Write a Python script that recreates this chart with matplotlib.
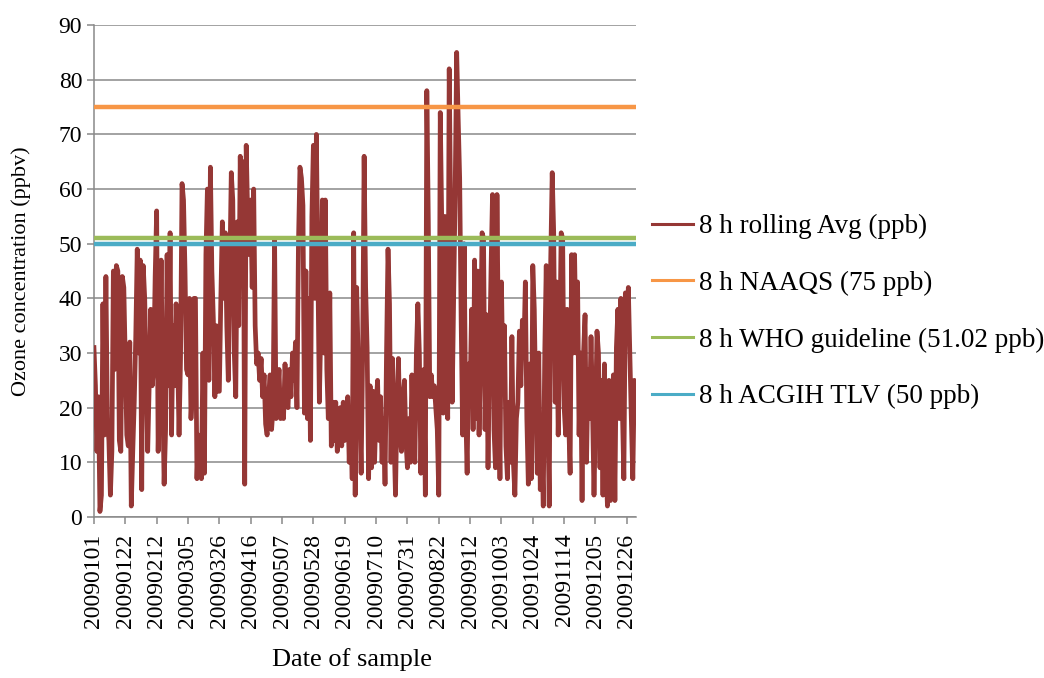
""" Ozone 8 h rolling average, 2009, against the guideline levels """

import numpy as np
import matplotlib
matplotlib.use("Agg")
import matplotlib.pyplot as plt

# daily 8 h rolling average (ppb), blocks of 21 days
ROLLING_AVG = [
    31, 24, 12, 22, 1, 4, 39, 15, 44, 18, 14, 4, 12, 45, 27, 46, 45, 14, 12, 44, 42,
    28, 15, 13, 32, 2, 12, 21, 33, 49, 30, 47, 5, 46, 40, 26, 12, 24, 38, 24, 27, 44,
    56, 12, 27, 47, 24, 6, 16, 48, 24, 52, 15, 35, 24, 39, 30, 15, 29, 61, 58, 45, 27,
    26, 40, 18, 24, 40, 40, 7, 15, 10, 7, 30, 8, 48, 60, 25, 64, 45, 36, 22, 35, 23,
    23, 40, 54, 40, 52, 35, 25, 45, 63, 58, 30, 22, 54, 35, 66, 45, 65, 6, 68, 55, 48,
    58, 42, 60, 35, 28, 30, 25, 29, 22, 26, 17, 15, 22, 26, 16, 20, 51, 18, 22, 27, 18,
    20, 18, 28, 21, 20, 27, 22, 30, 25, 32, 20, 50, 64, 62, 57, 19, 45, 18, 40, 14, 55,
    68, 40, 70, 45, 21, 35, 58, 30, 58, 27, 18, 41, 13, 21, 14, 21, 12, 16, 20, 13, 21,
    14, 18, 22, 10, 20, 7, 52, 4, 42, 29, 20, 8, 30, 66, 42, 31, 7, 24, 9, 23, 10,
    20, 25, 14, 22, 10, 18, 6, 30, 49, 39, 10, 29, 15, 4, 20, 29, 15, 12, 22, 25, 14,
    9, 18, 10, 26, 15, 10, 30, 39, 30, 8, 24, 27, 4, 78, 54, 22, 26, 22, 24, 20, 16,
    4, 74, 54, 19, 55, 31, 18, 82, 55, 21, 40, 60, 85, 73, 62, 36, 15, 50, 20, 8, 28,
    23, 38, 16, 47, 18, 45, 15, 30, 52, 51, 16, 37, 9, 28, 45, 59, 16, 9, 59, 30, 7,
    43, 24, 35, 13, 7, 21, 10, 33, 10, 4, 18, 21, 34, 24, 36, 30, 43, 18, 6, 28, 7,
    46, 38, 20, 8, 30, 5, 14, 2, 30, 46, 20, 2, 47, 63, 52, 21, 43, 15, 30, 52, 51,
    20, 15, 38, 18, 8, 48, 30, 48, 30, 43, 15, 30, 3, 30, 37, 10, 27, 18, 33, 20, 4,
    18, 34, 30, 9, 25, 4, 28, 10, 2, 25, 3, 19, 26, 3, 31, 38, 18, 40, 20, 7, 41,
    36, 42, 30, 18, 7, 25, 24,
]
DATE_LABELS = [
    "20090101", "20090122", "20090212", "20090305", "20090326", "20090416",
    "20090507", "20090528", "20090619", "20090710", "20090731", "20090822",
    "20090912", "20091003", "20091024", "20091114", "20091205", "20091226",
]
LABEL_STEP = 21
NAAQS = 75
WHO   = 51.02
ACGIH = 50

GRID_COLOR = "#898989"
SERIF      = ["Liberation Serif", "DejaVu Serif"]


def plot_ozone():
    """ Draw the series, the three limits and the legend """

    plt.rcParams["font.family"] = SERIF

    days = np.arange(len(ROLLING_AVG))

    fig = plt.figure(figsize=(10.44, 6.78), dpi=100)
    ax  = fig.add_axes([0.090, 0.2375, 0.519, 0.7255])

    ax.plot(days, ROLLING_AVG, color="#953735", lw=3.4,
            label="8 h rolling Avg (ppb)", zorder=3)
    ax.axhline(NAAQS, color="#F79646", lw=3.2, label="8 h NAAQS (75 ppb)", zorder=4)
    ax.axhline(WHO, color="#9BBB59", lw=3.2,
               label="8 h WHO guideline (51.02 ppb)", zorder=4)
    ax.axhline(ACGIH, color="#4BACC6", lw=3.2,
               label="8 h ACGIH TLV (50 ppb)", zorder=4)

    ax.set_xlim(0, len(ROLLING_AVG) - 1)
    ax.set_ylim(0, 90)
    ax.set_yticks(range(0, 91, 10))
    ax.set_xticks(days[::LABEL_STEP], DATE_LABELS, rotation=90)

    ax.grid(axis="y", color=GRID_COLOR, lw=1.1)
    ax.set_axisbelow(True)
    for side in ("top", "right"):
        ax.spines[side].set_visible(False)
    for side in ("left", "bottom"):
        ax.spines[side].set_color(GRID_COLOR)
        ax.spines[side].set_linewidth(1.1)
    ax.tick_params(colors=GRID_COLOR, labelcolor="black", labelsize=17,
                   length=5, width=1.1)
    ax.tick_params(axis="x", pad=7)

    ax.set_ylabel("Ozone concentration (ppbv)", fontsize=16, labelpad=20)
    ax.set_xlabel("Date of sample", fontsize=19)
    ax.xaxis.set_label_coords(0.476, -0.266)

    leg = fig.legend(loc="upper left", bbox_to_anchor=(0.6245, 0.684),
                     frameon=False, fontsize=19.5, handlelength=1.5,
                     handletextpad=0.25, labelspacing=1.16,
                     borderaxespad=0, borderpad=0)
    for line in leg.get_lines():
        line.set_linewidth(2.2)

    fig.savefig("out.png", dpi=100)


if __name__ == "__main__":
    plot_ozone()
